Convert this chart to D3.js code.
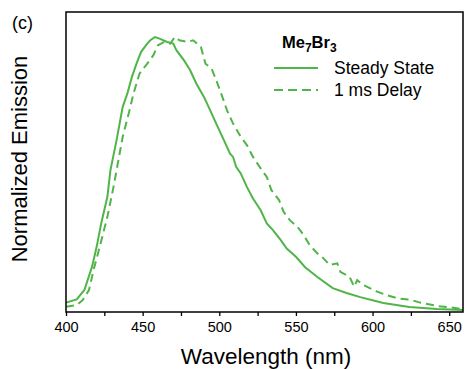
<!DOCTYPE html>
<html>
<head>
<meta charset="utf-8">
<script src="https://cdn.jsdelivr.net/npm/d3@7"></script>
<style>
  body { margin: 0; background: #fff; }
  text { font-family: "Liberation Sans", Arial, sans-serif; }
</style>
</head>
<body>
<div id="chart"></div>
<script>
// steady state emission, normalized
var steadyNm = [400, 407, 412, 417, 420, 423, 427, 429, 433, 437, 440, 443, 446, 449, 453, 455, 458, 461, 466, 470, 472, 477, 481, 485, 490, 494, 498, 503, 507, 509, 511, 514, 518, 522, 527, 531, 535, 540, 544, 550, 556, 564, 574, 583, 592, 607, 624, 642, 659];
var steadyVal = [0.034, 0.046, 0.080, 0.165, 0.237, 0.323, 0.419, 0.516, 0.625, 0.746, 0.794, 0.855, 0.903, 0.946, 0.976, 0.988, 1.000, 0.994, 0.982, 0.976, 0.952, 0.915, 0.879, 0.831, 0.782, 0.734, 0.685, 0.625, 0.576, 0.564, 0.528, 0.504, 0.455, 0.413, 0.370, 0.322, 0.298, 0.262, 0.231, 0.201, 0.163, 0.127, 0.087, 0.069, 0.054, 0.033, 0.018, 0.011, 0.007];

// 1 ms delayed emission, normalized
var delayNm = [400, 407, 411, 415, 418, 422, 427, 431, 433, 437, 442, 444, 448, 453, 457, 460, 464, 468, 471, 474, 479, 483, 488, 491, 495, 498, 502, 505, 509, 514, 518, 522, 527, 531, 534, 539, 542, 546, 551, 555, 559, 564, 566, 572, 577, 579, 585, 588, 590, 594, 603, 609, 616, 625, 631, 642, 651, 659];
var delayVal = [0.019, 0.025, 0.044, 0.080, 0.153, 0.237, 0.346, 0.455, 0.516, 0.637, 0.746, 0.794, 0.867, 0.903, 0.934, 0.970, 0.982, 0.976, 1.000, 0.988, 0.982, 0.988, 0.964, 0.903, 0.885, 0.843, 0.782, 0.734, 0.685, 0.637, 0.607, 0.564, 0.522, 0.491, 0.443, 0.407, 0.364, 0.334, 0.310, 0.280, 0.243, 0.213, 0.207, 0.171, 0.177, 0.146, 0.128, 0.092, 0.116, 0.098, 0.074, 0.062, 0.050, 0.044, 0.034, 0.022, 0.017, 0.010];

var majorTicks = [400, 450, 500, 550, 600, 650];
var minorTicks = [425, 475, 525, 575, 625];

var width = 465, height = 369;
var margin = {top: 12, right: 2, bottom: 57, left: 66};
var green = "#4fb548";

var svg = d3.select("#chart").append("svg")
  .attr("width", width)
  .attr("height", height);

var x = d3.scaleLinear()
  .domain([400, 659])
  .range([margin.left, width - margin.right]);

var y = d3.scaleLinear()
  .domain([0, 1])
  .range([height - margin.bottom, 37]);

var line = d3.line()
  .x(function (d) { return x(d[0]); })
  .y(function (d) { return y(d[1]); });

var steady = d3.zip(steadyNm, steadyVal);
var delay = d3.zip(delayNm, delayVal);

svg.append("path")
  .datum(steady)
  .attr("fill", "none")
  .attr("stroke", green)
  .attr("stroke-width", 2)
  .attr("d", line);

svg.append("path")
  .datum(delay)
  .attr("fill", "none")
  .attr("stroke", green)
  .attr("stroke-width", 2)
  .attr("stroke-dasharray", "8,5")
  .attr("d", line);

// bottom axis, major + minor ticks
var xAxis = d3.axisBottom(x)
  .tickValues(majorTicks)
  .tickSize(4)
  .tickPadding(6)
  .tickFormat(d3.format("d"));

var gx = svg.append("g")
  .attr("transform", "translate(0," + (height - margin.bottom) + ")")
  .call(xAxis);
gx.select(".domain").remove();
gx.selectAll("line").attr("stroke", "#000").attr("stroke-width", 1.3);
gx.selectAll("text")
  .attr("font-size", 14.5)
  .attr("fill", "#000")
  .style("font-family", "'Liberation Sans', Arial, sans-serif");

var gMinor = svg.append("g")
  .attr("transform", "translate(0," + (height - margin.bottom) + ")")
  .call(d3.axisBottom(x).tickValues(minorTicks).tickSize(4).tickFormat(""));
gMinor.select(".domain").remove();
gMinor.selectAll("line").attr("stroke", "#000").attr("stroke-width", 1.3);

// frame
svg.append("rect")
  .attr("x", margin.left)
  .attr("y", margin.top)
  .attr("width", width - margin.right - margin.left)
  .attr("height", height - margin.bottom - margin.top)
  .attr("fill", "none")
  .attr("stroke", "#000")
  .attr("stroke-width", 1.5);

// labels
svg.append("text")
  .attr("x", 12)
  .attr("y", 29)
  .attr("font-size", 18)
  .text("(c)");

svg.append("text")
  .attr("transform", "translate(27,159) rotate(-90)")
  .attr("text-anchor", "middle")
  .attr("font-size", 22)
  .text("Normalized Emission");

svg.append("text")
  .attr("x", 266)
  .attr("y", 364)
  .attr("text-anchor", "middle")
  .attr("font-size", 22.5)
  .text("Wavelength (nm)");

// legend
var title = svg.append("text")
  .attr("x", 282)
  .attr("y", 48)
  .attr("font-size", 16.5)
  .attr("font-weight", "bold");
title.append("tspan").text("Me");
title.append("tspan").attr("font-size", 12).attr("dy", 4).text("7");
title.append("tspan").attr("dy", -4).text("Br");
title.append("tspan").attr("font-size", 12).attr("dy", 4).text("3");

var legendItems = [
  {label: "Steady State", dash: null, y: 68},
  {label: "1 ms Delay", dash: "9,5", y: 90}
];

var leg = svg.append("g").selectAll("g")
  .data(legendItems)
  .join("g");

leg.append("line")
  .attr("x1", 274)
  .attr("x2", 318)
  .attr("y1", function (d) { return d.y; })
  .attr("y2", function (d) { return d.y; })
  .attr("stroke", green)
  .attr("stroke-width", 2)
  .attr("stroke-dasharray", function (d) { return d.dash; });

leg.append("text")
  .attr("x", 334)
  .attr("y", function (d) { return d.y + 6; })
  .attr("font-size", 17.5)
  .text(function (d) { return d.label; });
</script>
</body>
</html>
